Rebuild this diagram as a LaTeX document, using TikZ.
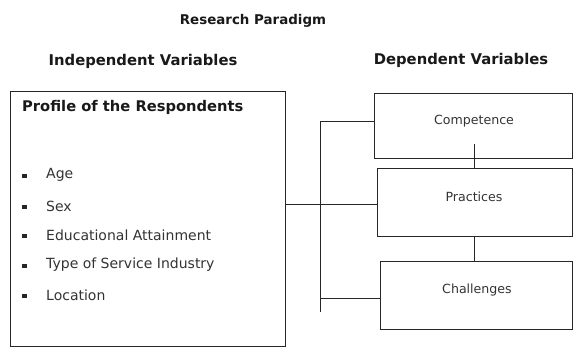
\documentclass[tikz,border=0pt]{standalone}
\usepackage{fontspec}
\setmainfont{DejaVu Sans}
\begin{document}
\begin{tikzpicture}[x=1pt,y=-1pt,
  box/.style={draw=black!85,line width=1.1pt,inner sep=0pt,anchor=north west},
  link/.style={draw=black!85,line width=0.9pt},
  heading/.style={font=\fontsize{14.8}{16}\selectfont\bfseries,text=black!90},
  item/.style={font=\fontsize{14}{16}\selectfont,text=black!80,anchor=west,inner sep=0pt},
  bullet/.style={rectangle,fill=black!85,minimum width=4.2pt,minimum height=4.2pt,inner sep=0pt,outer sep=0pt},
  boxtext/.style={font=\fontsize{12.6}{14}\selectfont,text=black!80}]
\useasboundingbox (0,0) rectangle (573,348);

% titles
\node[heading,font=\fontsize{13.4}{15}\selectfont\bfseries] (title) at (253,21) {Research Paradigm};
\node[heading] (indep) at (143,61) {Independent Variables};
\node[heading] (dep) at (461,60) {Dependent Variables};

% independent variables box
\node[box,minimum width=275pt,minimum height=255pt] (profile) at (10,91) {};
\node[item,font=\fontsize{14.7}{16}\selectfont\bfseries,text=black!90] (ptitle) at (22,107) {Profile of the Respondents};
\foreach \y/\t [count=\i] in {175/Age,206/Sex,235/Educational Attainment,265/Type of Service Industry,295/Location}{
  \node[bullet] (b\i) at (24.5,\y+1) {};
  \node[item] (i\i) at (46,\y) {\t};
}

% dependent variables boxes
\node[box,minimum width=198pt,minimum height=65pt] (comp) at (374,93) {};
\node[boxtext] (compt) at (474,121) {Competence};
\node[box,minimum width=195pt,minimum height=68pt] (prac) at (377,168) {};
\node[boxtext] (pract) at (474,197) {Practices};
\node[box,minimum width=192pt,minimum height=68pt] (chal) at (380,261) {};
\node[boxtext] (chalt) at (477,290) {Challenges};

% connectors
\coordinate (top) at (320,121);
\coordinate (bot) at (320,312);
\coordinate (mid) at (320,204);
\coordinate (low) at (320,298);
\coordinate (cin) at (474,144);
\draw[link] (top) -- (bot);
\draw[link] (top) -- (top -| comp.west);
\draw[link] (mid -| profile.east) -- (mid -| prac.west);
\draw[link] (low) -- (low -| chal.west);
\draw[link] (cin) -- (cin |- prac.north);
\draw[link] (prac.south -| cin) -- (chal.north -| cin);
\end{tikzpicture}
\end{document}
